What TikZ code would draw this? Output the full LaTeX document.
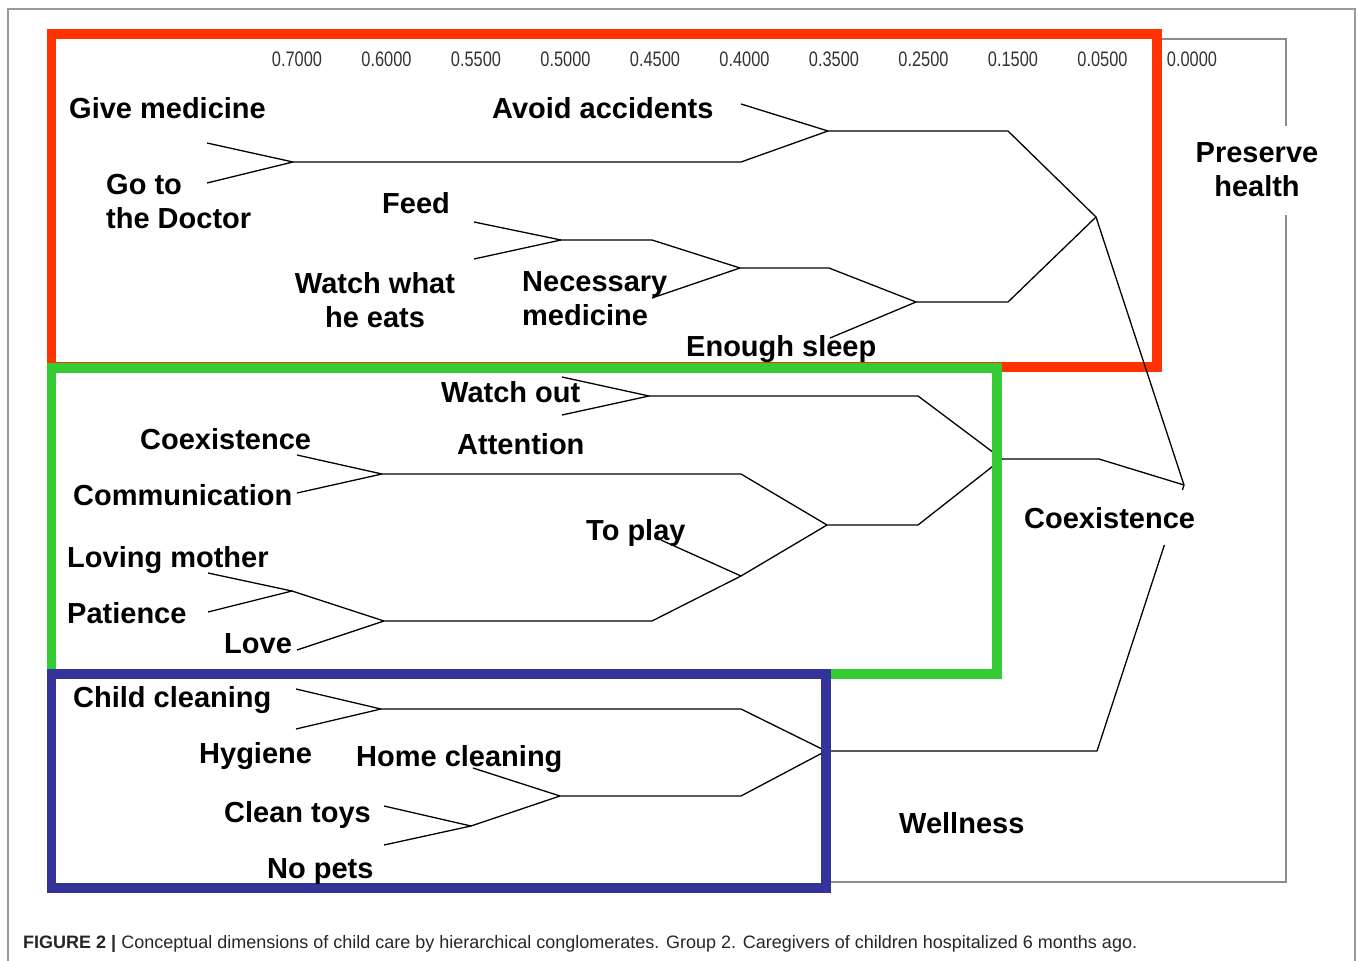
\documentclass[tikz,border=0pt]{standalone}
\usepackage{fontspec}
\setmainfont{Liberation Sans}
\usepackage{graphicx}
\definecolor{boxred}{RGB}{255,51,0}
\definecolor{boxgreen}{RGB}{51,204,51}
\definecolor{boxblue}{RGB}{51,51,153}
\definecolor{framegray}{RGB}{140,140,140}
\tikzset{
  den/.style={line width=1.3pt, black, line join=round},
  lbl/.style={inner sep=0pt, font=\fontsize{29}{34}\selectfont\bfseries},
  tick/.style={inner sep=0pt, anchor=base, text=black!80},
  grp/.style={line width=9.5pt},
  gframe/.style={line width=1.4pt, framegray},
}
\newcommand{\axnum}[1]{\scalebox{0.78}[1]{\fontsize{21}{21}\selectfont #1}}
\begin{document}
\begin{tikzpicture}[x=1pt,y=-1pt]
\useasboundingbox (0,0) rectangle (1358,961);
% outer border
\draw[line width=1.3pt, black!40] (8,961) -- (8,9) -- (1355,9) -- (1355,961);
% dendrogram frame
\draw[gframe] (1157,39) -- (1286,39) -- (1286,126);
\draw[gframe] (1286,215) -- (1286,882) -- (826,882);
% red group
\draw[grp, boxred] (51.5,34) rectangle (1157,367);
% coordinates
\coordinate (gm) at (207,143);
\coordinate (gd) at (207,183);
\coordinate (a1) at (293,162);
\coordinate (a1e) at (741,162);
\coordinate (aa) at (741,104);
\coordinate (a2) at (828,131);
\coordinate (a2e) at (1008,131);
\coordinate (fd) at (474,222);
\coordinate (ww) at (474,259);
\coordinate (a3) at (561,240);
\coordinate (a3e) at (652,240);
\coordinate (nm) at (652,298);
\coordinate (a4) at (740,268);
\coordinate (a4e) at (829,268);
\coordinate (es) at (830,338);
\coordinate (a5) at (916,302);
\coordinate (a5e) at (1008,302);
\coordinate (a6) at (1096,217);
\coordinate (root) at (1184,485);
\coordinate (wo) at (562,377);
\coordinate (at) at (562,415);
\coordinate (b1) at (649,396);
\coordinate (b1e) at (918,396);
\coordinate (co) at (297,455);
\coordinate (cm) at (297,493);
\coordinate (b2) at (382,474);
\coordinate (b2e) at (741,474);
\coordinate (lm) at (208,573);
\coordinate (pa) at (208,612);
\coordinate (b3) at (292,591);
\coordinate (lo) at (297,650);
\coordinate (b4) at (384,621);
\coordinate (b4e) at (652,621);
\coordinate (tp) at (661,540);
\coordinate (b5) at (741,576);
\coordinate (b6) at (827,525);
\coordinate (b6e) at (918,525);
\coordinate (b7) at (1002,459);
\coordinate (b7e) at (1099,459);
\coordinate (cc) at (296,689);
\coordinate (hy) at (296,729);
\coordinate (c1) at (381,709);
\coordinate (c1e) at (741,709);
\coordinate (hc) at (473,768);
\coordinate (ct) at (384,806);
\coordinate (np) at (384,845);
\coordinate (c2) at (471,826);
\coordinate (c3) at (560,796);
\coordinate (c3e) at (741,796);
\coordinate (c4) at (826,751);
\coordinate (c4e) at (1097,751);
\coordinate (cg1) at (1164.4,545);
\coordinate (cg2) at (1182.4,490);
% red cluster
\draw[den] (gm) -- (a1) -- (gd);
\draw[den] (a1) -- (a1e) -- (a2) -- (aa);
\draw[den] (a2) -- (a2e) -- (a6) -- (a5e) -- (a5) -- (es);
\draw[den] (a5) -- (a4e) -- (a4) -- (nm);
\draw[den] (a4) -- (a3e) -- (a3) -- (fd);
\draw[den] (a3) -- (ww);
\draw[den] (a6) -- (root);
% green cluster
\draw[den] (wo) -- (b1) -- (at);
\draw[den] (b1) -- (b1e) -- (b7) -- (b6e) -- (b6) -- (b2e) -- (b2) -- (co);
\draw[den] (b2) -- (cm);
\draw[den] (b6) -- (b5) -- (tp);
\draw[den] (b5) -- (b4e) -- (b4) -- (lo);
\draw[den] (b4) -- (b3) -- (lm);
\draw[den] (b3) -- (pa);
\draw[den] (b7) -- (b7e) -- (root);
% blue cluster
\draw[den] (cc) -- (c1) -- (hy);
\draw[den] (c1) -- (c1e) -- (c4) -- (c3e) -- (c3) -- (hc);
\draw[den] (c3) -- (c2) -- (ct);
\draw[den] (c2) -- (np);
\draw[den] (c4) -- (c4e) -- (cg1);
\draw[den] (cg2) -- (root);
% green and blue groups
\draw[grp, boxgreen] (51.5,368) rectangle (997,674);
\draw[grp, boxblue] (51.5,674) rectangle (826,888);
% axis values
\foreach \v [count=\i from 0] in {0.7000,0.6000,0.5500,0.5000,0.4500,0.4000,0.3500,0.2500,0.1500,0.0500,0.0000}
  \node[tick] (t\i) at ({297+89.5*\i},66) {\axnum{\v}};
% labels
\node[lbl, anchor=base west] (Lgive) at (69,118) {Give medicine};
\node[lbl, anchor=base west] (Lavoid) at (492,118) {Avoid accidents};
\node[lbl, anchor=north west, align=left] (Ldoc) at (106,174) {Go to\\the Doctor};
\node[lbl, anchor=base west] (Lfeed) at (382,213) {Feed};
\node[lbl, anchor=north, align=center] (Lwatch) at (375,272) {Watch what\\he eats};
\node[lbl, anchor=north west, align=left] (Lnec) at (522,271) {Necessary\\medicine};
\node[lbl, anchor=base west] (Lsleep) at (686,356) {Enough sleep};
\node[lbl, anchor=north, align=center] (Lpres) at (1257,142) {Preserve\\health};
\node[lbl, anchor=base west] (Lwo) at (441,402) {Watch out};
\node[lbl, anchor=base west] (Latt) at (457,454) {Attention};
\node[lbl, anchor=base west] (Lco) at (140,449) {Coexistence};
\node[lbl, anchor=base west] (Lcom) at (73,505) {Communication};
\node[lbl, anchor=base west] (Lplay) at (586,540) {To play};
\node[lbl, anchor=base west] (Lmom) at (67,567) {Loving mother};
\node[lbl, anchor=base west] (Lpat) at (67,623) {Patience};
\node[lbl, anchor=base west] (Llove) at (224,653) {Love};
\node[lbl, anchor=base west] (Lcoex) at (1024,528) {Coexistence};
\node[lbl, anchor=base west] (Lchild) at (73,707) {Child cleaning};
\node[lbl, anchor=base west] (Lhyg) at (199,763) {Hygiene};
\node[lbl, anchor=base west] (Lhome) at (356,766) {Home cleaning};
\node[lbl, anchor=base west] (Ltoys) at (224,822) {Clean toys};
\node[lbl, anchor=base west] (Lpets) at (267,878) {No pets};
\node[lbl, anchor=base west] (Lwell) at (899,833) {Wellness};
% caption
\node[inner sep=0pt, anchor=base west, text=black!85] (cap) at (23,948)
  {\resizebox{1114pt}{!}{\fontsize{15}{15}\selectfont\textbf{FIGURE 2 |} Conceptual dimensions of child care by hierarchical conglomerates. Group 2. Caregivers of children hospitalized 6 months ago.}};
\end{tikzpicture}
\end{document}
